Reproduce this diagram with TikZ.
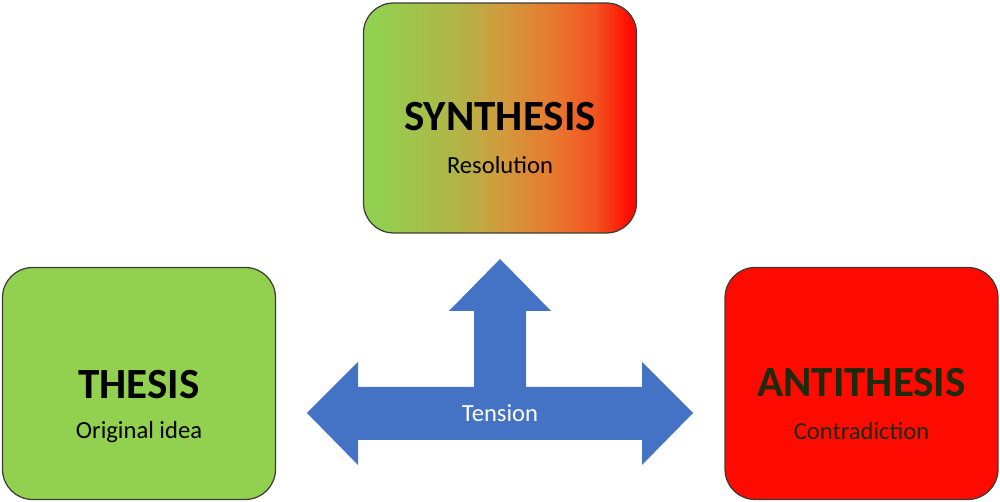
\documentclass[tikz,border=0pt]{standalone}
\usepackage{fontspec}
\setmainfont{Carlito}
\usetikzlibrary{calc,positioning}
\definecolor{Ink}{HTML}{1A1A10}
\definecolor{Leaf}{HTML}{92D050}
\definecolor{Olive}{HTML}{B2B446}
\definecolor{Tan}{HTML}{D09C3E}
\definecolor{Ember}{HTML}{E8782E}
\definecolor{Flame}{HTML}{F25220}
\definecolor{Blaze}{HTML}{FF0A00}
\definecolor{Moss}{HTML}{1E2A0C}
\definecolor{Steel}{HTML}{4472C4}
\pgfdeclarehorizontalshading{ripen}{100bp}{
  color(0bp)=(Leaf); color(27bp)=(Leaf); color(42.5bp)=(Olive);
  color(50bp)=(Tan); color(60bp)=(Ember); color(67.5bp)=(Flame);
  color(74bp)=(Blaze); color(100bp)=(Blaze)}
\tikzset{
  stage/.style={rounded corners=0.6cm,draw=Ink!85,line width=0.7pt,
    minimum width=5.46cm,minimum height=4.64cm,inner sep=0pt},
  headword/.style={font=\bfseries\fontsize{24.5}{28}\selectfont},
  gloss/.style={font=\fontsize{14}{16}\selectfont}
}

\begin{document}
\begin{tikzpicture}[x=0.02cm,y=0.02cm]
\useasboundingbox (0,0) rectangle (1000,502);
% the three stages
\node[stage,shading=ripen,minimum height=4.6cm] (synth) at (500,384) {};
\node[stage,fill=Leaf] (thesis) at (139,118.5) {};
\node[stage,fill=Blaze] (anti) at (861.5,118.5) {};
\node[headword] (synthT) at ($(synth.center)+(0,1)$) {SYNTHESIS};
\node[gloss] (synthS) at ($(synth.center)+(0,-47)$) {Resolution};
\node[headword] (thesisT) at ($(thesis.center)+(0,-1)$) {THESIS};
\node[gloss] (thesisS) at ($(thesis.center)+(0,-49)$) {Original idea};
\node[headword,text=Moss] (antiT) at ($(anti.center)+(0,1)$) {ANTITHESIS};
\node[gloss,text=Moss] (antiS) at ($(anti.center)+(0,-48)$) {Contradiction};
% the tension arrow
\fill[Steel] (307,89) -- (358,140) -- (358,115) -- (474,115) -- (474,191)
  -- (449,191) -- (500,243) -- (551,191) -- (526,191) -- (526,115)
  -- (642,115) -- (642,140) -- (693,89) -- (642,37) -- (642,62)
  -- (358,62) -- (358,37) -- cycle;
\node[gloss,text=white] (tension) at (500,89) {Tension};
\end{tikzpicture}
\end{document}
